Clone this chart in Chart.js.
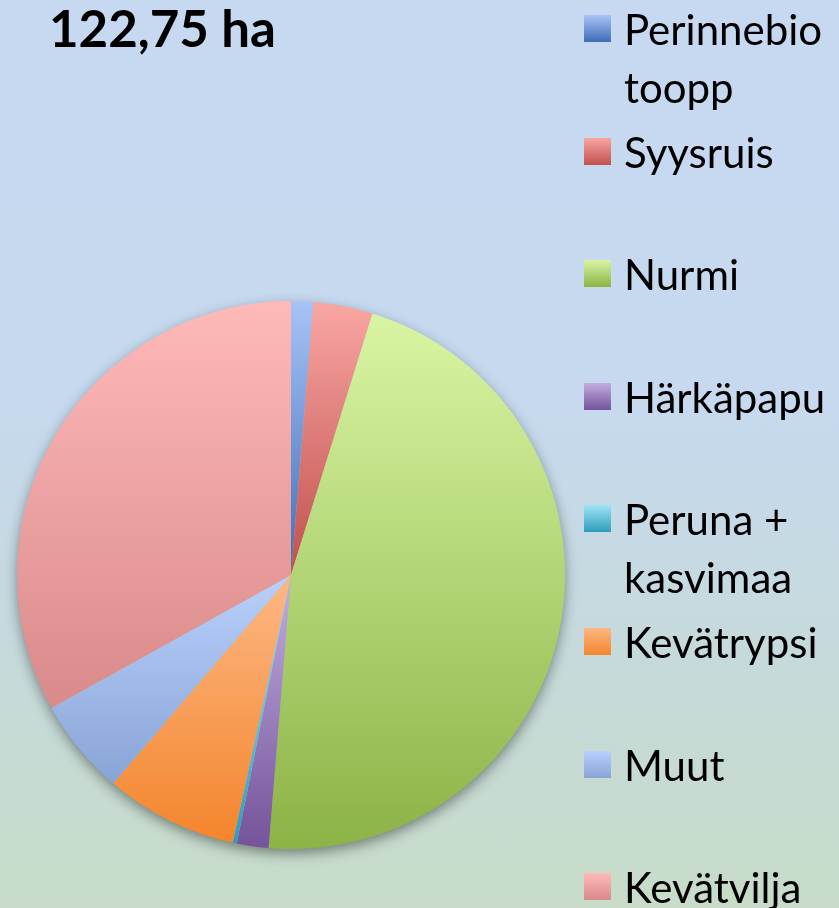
<!DOCTYPE html>
<html>
<head>
<meta charset="utf-8">
<script src="https://cdn.jsdelivr.net/npm/chart.js@4.4.0/dist/chart.umd.min.js"></script>
<style>
  html, body { margin: 0; padding: 0; }
  body {
    width: 839px; height: 908px; overflow: hidden;
    background: linear-gradient(to bottom, #c6d9f1 0%, #c6d9ee 45%, #c6dad6 80%, #c8dcc9 100%);
    font-family: Lato, "Open Sans", sans-serif;
  }
  #wrap { position: relative; width: 839px; height: 908px; }
  #title {
    position: absolute; left: 49px; top: -1px;
    font-weight: bold; font-size: 51px; line-height: 58px; color: #000;
  }
  #legend { position: absolute; left: 584px; top: 0; width: 255px; height: 908px; }
  .item { position: absolute; left: 0; width: 255px; }
  .box { position: absolute; left: 0; width: 27px; height: 27px; }
  .txt {
    position: absolute; left: 40px; width: 206px;
    font-size: 42px; line-height: 58px; color: #000;
    overflow-wrap: anywhere;
  }
</style>
</head>
<body>
<div id="wrap">
  <canvas id="grafica"></canvas>
  <div id="title">122,75 ha</div>
  <div id="legend"></div>
</div>
<script>
const labels = ['Perinnebiotoopp', 'Syysruis', 'Nurmi', 'Härkäpapu', 'Peruna + kasvimaa', 'Kevätrypsi', 'Muut', 'Kevätvilja'];
const hectares = [1.6, 4.3, 57.1, 2.3, 0.3, 9.6, 7.0, 40.6];
const lightColors = ['#a8c3f6', '#f9a6a3', '#d9f5a4', '#c2aee0', '#9fe4f7', '#fdb784', '#b9d0fb', '#ffb9b9'];
const darkColors = ['#3f6db8', '#c0504d', '#8cb346', '#74539a', '#2f9dbb', '#f4852c', '#88a4d6', '#d98a8a'];

const total = hectares.reduce((a, b) => a + b, 0);

// gradient per slice, top to bottom of that slice's own bounding box
function sliceFill(ctx) {
  const chart = ctx.chart;
  const area = chart.chartArea;
  const i = ctx.dataIndex;
  if (!area) return darkColors[i];
  const cx = (area.left + area.right) / 2;
  const cy = (area.top + area.bottom) / 2;
  const r = Math.min(area.right - area.left, area.bottom - area.top) / 2;
  let before = 0;
  for (let k = 0; k < i; k++) before += hectares[k];
  const a0 = -Math.PI / 2 + before / total * 2 * Math.PI;
  const a1 = a0 + hectares[i] / total * 2 * Math.PI;
  const ys = [cy, cy + r * Math.sin(a0), cy + r * Math.sin(a1)];
  if (a0 <= Math.PI / 2 && a1 >= Math.PI / 2) ys.push(cy + r);
  if (a0 <= -Math.PI / 2 + 1e-6 || a1 >= 3 * Math.PI / 2 - 1e-6) ys.push(cy - r);
  const top = Math.min(...ys), bot = Math.max(...ys);
  const g = chart.ctx.createLinearGradient(0, top, 0, bot + 0.01);
  g.addColorStop(0, lightColors[i]);
  g.addColorStop(1, darkColors[i]);
  return g;
}

const pieShadow = {
  id: 'pieShadow',
  beforeDatasetsDraw(chart) {
    const a = chart.chartArea;
    const c = chart.ctx;
    const cx = (a.left + a.right) / 2, cy = (a.top + a.bottom) / 2;
    const r = Math.min(a.right - a.left, a.bottom - a.top) / 2;
    c.save();
    c.shadowColor = 'rgba(0,0,0,0.45)';
    c.shadowBlur = 14;
    c.shadowOffsetY = 5;
    c.fillStyle = '#b0c4a0';
    c.beginPath();
    c.arc(cx, cy, r - 1, 0, Math.PI * 2);
    c.fill();
    c.restore();
  }
};

const graph = document.querySelector('#grafica');
new Chart(graph, {
  type: 'pie',
  data: {
    labels: labels,
    datasets: [{
      data: hectares,
      backgroundColor: sliceFill,
      borderWidth: 0
    }]
  },
  options: {
    responsive: true,
    maintainAspectRatio: false,
    animation: false,
    layout: { padding: { left: 17, right: 274, top: 301, bottom: 59 } },
    plugins: {
      legend: { display: false },
      tooltip: { enabled: false }
    }
  },
  plugins: [pieShadow]
});

// legend on the right, one slot per category
const legend = document.getElementById('legend');
const slot = 122.6;
labels.forEach((name, i) => {
  const centre = 29 + i * slot;
  const item = document.createElement('div');
  item.className = 'item';
  item.style.top = (centre - 29) + 'px';
  const box = document.createElement('div');
  box.className = 'box';
  box.style.top = '15px';
  box.style.background = 'linear-gradient(to bottom, ' + lightColors[i] + ', ' + darkColors[i] + ')';
  const txt = document.createElement('div');
  txt.className = 'txt';
  txt.style.top = '0px';
  txt.textContent = name;
  item.appendChild(box);
  item.appendChild(txt);
  legend.appendChild(item);
});
</script>
</body>
</html>
